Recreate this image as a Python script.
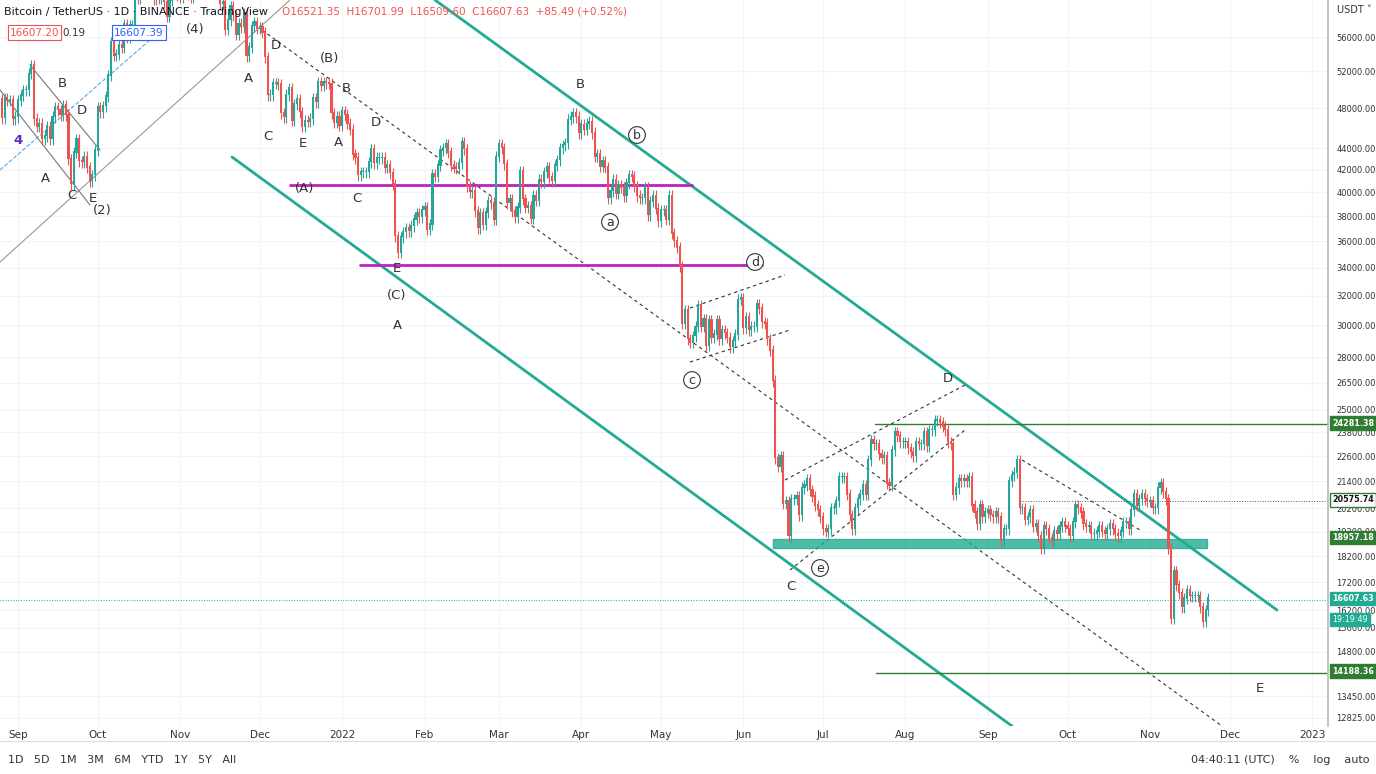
import numpy as np, pandas as pd, seaborn as sns, matplotlib
matplotlib.use("Agg")
import matplotlib.pyplot as plt

# daily closes (thousands USDT), 2021-08-25 .. 2022-11-23
closes_k = [48.9,47.0,49.0,48.8,48.8,46.9,47.1,
 48.8,49.3,49.9,49.9,51.7,52.7,46.9,46.1,46.4,44.9,45.2,46.1,44.9,47.1,48.1,47.8,47.3,48.3,47.3,43.0,40.7,43.6,44.9,42.8,42.7,43.2,42.2,41.0,41.5,43.8,
 48.1,47.6,48.2,49.2,51.5,55.3,53.8,53.9,55.0,54.7,57.5,56.0,57.4,57.4,61.7,60.9,61.5,62.0,64.3,66.0,62.2,60.7,61.4,60.9,63.1,60.4,58.5,60.6,62.3,61.9,61.3,
 61.0,63.2,62.9,61.4,61.0,61.5,63.3,67.5,66.9,64.9,64.8,64.2,64.4,65.5,63.6,60.1,60.4,56.9,58.1,59.8,58.7,56.3,57.6,57.2,58.9,53.7,54.7,57.3,57.8,57.0,
 57.2,56.5,53.6,49.4,49.4,50.6,50.6,50.5,47.5,47.1,49.4,50.1,46.7,48.4,48.9,47.6,46.1,46.7,46.6,46.9,49.0,48.6,50.8,50.4,50.8,50.7,50.6,47.5,46.5,47.1,46.2,
 47.7,47.3,46.4,45.8,43.4,43.1,41.5,41.8,41.8,41.8,42.7,43.9,42.6,43.1,43.1,43.1,42.2,42.4,41.7,40.7,36.4,35.1,36.3,36.7,37.0,36.8,37.2,37.7,38.2,37.9,38.5,
 38.7,36.9,37.3,41.6,41.4,42.4,43.8,44.0,44.4,43.6,42.4,42.2,42.1,42.6,44.6,43.9,40.5,40.0,40.1,38.4,37.0,38.2,37.3,38.3,39.2,39.1,37.7,43.2,
 44.4,44.0,42.5,39.1,39.4,38.4,37.9,38.7,41.9,39.4,38.7,38.8,37.8,39.7,39.3,41.1,40.9,41.8,42.2,41.3,41.0,42.4,42.9,44.0,44.3,44.5,46.8,47.1,47.5,47.1,45.5,
 46.3,45.8,46.4,46.6,45.5,43.2,43.4,42.3,42.8,42.2,39.5,40.1,41.1,39.9,40.6,40.4,39.7,40.8,41.5,41.4,40.5,39.7,39.5,39.5,40.4,38.1,39.2,39.7,38.6,37.6,
 38.5,38.5,37.7,39.7,36.6,36.0,35.5,34.1,30.1,31.0,29.1,28.9,29.3,29.9,31.3,29.9,30.4,28.7,30.3,29.2,29.4,30.3,29.1,29.7,29.5,29.2,28.6,29.0,29.4,31.7,31.8,
 29.8,30.5,29.7,29.9,29.9,31.4,31.1,30.2,30.1,29.1,28.4,26.6,22.5,22.1,22.6,20.4,20.5,19.0,20.6,20.6,20.7,19.9,21.1,21.2,21.5,21.0,20.7,20.3,20.1,19.8,
 19.3,19.2,19.3,20.2,20.2,20.5,21.6,21.6,21.6,20.8,19.9,19.3,20.2,20.6,20.8,21.2,20.8,22.4,23.4,23.2,23.2,22.7,22.5,22.6,21.3,21.2,22.9,23.8,23.6,23.3,23.3,
 23.3,23.0,22.8,22.6,23.3,23.2,23.2,23.8,23.1,23.9,23.9,24.4,24.4,24.3,24.1,23.9,23.3,23.2,20.8,21.1,21.5,21.4,21.5,21.4,21.6,20.3,20.0,19.5,20.3,19.8,20.0,
 20.1,19.9,19.8,20.0,19.8,18.8,19.3,19.3,21.4,21.7,21.8,22.4,20.2,20.2,19.7,19.8,20.1,19.4,19.5,19.0,18.5,19.4,19.3,18.9,18.8,19.2,19.1,19.4,19.6,19.4,
 19.3,19.0,19.6,20.3,20.2,20.0,19.5,19.4,19.4,19.1,19.1,19.2,19.4,19.2,19.1,19.3,19.5,19.3,19.1,19.0,19.2,19.6,19.6,19.3,20.1,20.8,20.3,20.6,20.8,20.6,20.5,
 20.5,20.2,20.2,21.1,21.3,20.9,20.6,18.5,15.9,17.6,17.1,16.8,16.3,16.6,16.9,16.7,16.7,16.7,16.7,16.3,15.8,16.2,16.6]
start_day = -7  # days relative to 2021-09-01
month_labels = ["Sep","Oct","Nov","Dec","2022","Feb","Mar","Apr","May","Jun","Jul","Aug","Sep","Oct","Nov","Dec","2023"]
month_days = [0,30,61,91,122,153,181,212,242,273,303,334,365,395,426,456,487]
price_ticks = [56000,52000,48000,44000,42000,40000,38000,36000,34000,32000,30000,28000,26500,25000,23800,22600,21400,20200,19200,18200,17200,16200,15600,14800,13450,12825]
levels = [24281.38,20575.74,18957.18,16607.63,14188.36]

UP, DN, TEAL = "#26a69a", "#ef5350", "#22ab94"
sns.set_theme(style="white")
plt.rcParams['font.family'] = ['DejaVu Sans']
fig = plt.figure(figsize=(13.76,7.74), dpi=100)
ax = fig.add_axes([0, 48/774, 1328/1376, 1-48/774])
ax.set_yscale("log")
X0, X1 = -18/2.657, (1328-18)/2.657
Y1 = 56000*np.exp(37/462)
ax.set_ylim(12825*np.exp(-(726-718)/462), Y1)
ax.set_xlim(X0, X1)

def P(x, y):  # pixel -> data (annotations)
    return (x-18)/2.657, 56000*np.exp((37-y)/462)

c = np.array(closes_k)*1000
o = np.r_[c[0], c[:-1]]
days = np.arange(len(c)) + start_day
hi = np.maximum(o,c)*1.012; lo = np.minimum(o,c)*0.988
col = np.where(c>=o, UP, DN)

for v in price_ticks: ax.axhline(v, color="#f0f3fa", lw=0.8, zorder=0)
for d in month_days: ax.axvline(d, color="#f0f3fa", lw=0.8, zorder=0)

ax.vlines(days, lo, hi, colors=col, lw=0.8, zorder=3)
ax.bar(days, np.abs(c-o)+c*0.003, bottom=np.minimum(o,c), width=0.8, color=col, zorder=4, linewidth=0)

def seg(p1, p2, **kw):
    a, b = P(*p1), P(*p2); ax.plot([a[0],b[0]],[a[1],b[1]], **kw)
seg((435,0),(1277,610), color=TEAL, lw=2)
seg((232,157),(1012,726), color=TEAL, lw=2)
seg((262,30),(1222,726), color="#333", lw=0.8, ls=(0,(3,3)))
seg((290,185),(692,185), color="#c020c0", lw=2)
seg((360,265),(762,265), color="#c020c0", lw=2)
seg((875,424),(1376,424), color="#2e7d32", lw=1)
seg((876,673),(1376,673), color="#2e7d32", lw=1)
seg((1020,501),(1376,501), color="#555", lw=0.7, ls=":")
seg((0,600),(1376,600), color=TEAL, lw=0.7, ls=":")
seg((0,262),(290,0), color="#999", lw=0.8)
seg((0,170),(150,40), color="#5aa9e6", lw=0.8, ls="--")
seg((30,65),(100,150), color="#777", lw=0.8)
seg((90,205),(0,90), color="#777", lw=0.8)
seg((785,480),(965,385), color="#333", lw=0.8, ls=(0,(3,3)))
seg((790,570),(965,430), color="#333", lw=0.8, ls=(0,(3,3)))
seg((690,308),(785,275), color="#333", lw=0.8, ls=(0,(3,3)))
seg((690,362),(790,330), color="#333", lw=0.8, ls=(0,(3,3)))
seg((1022,460),(1140,530), color="#333", lw=0.8, ls=(0,(3,3)))
a, b = P(773,548), P(1207,539)
ax.fill_between([a[0],b[0]], a[1], b[1], color=TEAL, alpha=0.8, zorder=2)

labels = [(305,188,"(A)"),(330,58,"(B)"),(397,295,"(C)"),(397,325,"A"),(397,268,"E"),(276,45,"D"),(248,78,"A"),(268,136,"C"),
          (303,143,"E"),(346,88,"B"),(338,142,"A"),(376,122,"D"),(357,198,"C"),(580,84,"B"),(791,586,"C"),(948,378,"D"),
          (1260,688,"E"),(45,178,"A"),(62,83,"B"),(82,110,"D"),(72,195,"C"),(93,198,"E"),(102,210,"(2)"),(195,29,"(4)")]
for x,y,t in labels:
    ax.text(*P(x,y), t, ha="center", va="center", fontsize=9.5, color="#333")
ax.text(*P(18,140), "4", ha="center", va="center", fontsize=9.5, color="#5b2fc7", weight="bold")
for x,y,t in [(637,135,"b"),(610,222,"a"),(755,262,"d"),(692,380,"c"),(820,568,"e")]:
    ax.text(*P(x,y), t, ha="center", va="center", fontsize=9, color="#333",
            bbox=dict(boxstyle="circle,pad=0.15", fc="white", ec="#333", lw=0.8))

ax.yaxis.tick_right()
ax.set_yticks(price_ticks); ax.set_yticklabels([f"{v:.2f}" for v in price_ticks], fontsize=6, color="#333")
ax.yaxis.set_minor_locator(matplotlib.ticker.NullLocator())
ax.set_xticks(month_days); ax.set_xticklabels(month_labels, fontsize=7.5, color="#333")
ax.tick_params(axis="y", length=0, pad=6)
ax.tick_params(axis="x", length=0, pad=3)
for s in ax.spines.values(): s.set_visible(False)
ax.spines["right"].set_visible(True); ax.spines["right"].set_color("#bbb")

for v, fc in zip(levels, ["#2e7d32", "#ffffff", "#2e7d32", TEAL, "#2e7d32"]):
    ax.text(1.003, v, f"{v:.2f}", transform=ax.get_yaxis_transform(), va="center", ha="left", fontsize=5.8,
            color="white" if fc!="#ffffff" else "#111", weight="bold", zorder=10,
            bbox=dict(boxstyle="square,pad=0.3", fc=fc, ec="#2e7d32" if fc=="#ffffff" else fc))
ax.text(1.003, 16607.63*0.965, "19:19:49", transform=ax.get_yaxis_transform(), va="top", ha="left", fontsize=5.8,
        color="white", zorder=10, bbox=dict(boxstyle="square,pad=0.3", fc=TEAL, ec=TEAL))

fig.text(0.003, 0.985, "Bitcoin / TetherUS · 1D · BINANCE · TradingView", fontsize=8, color="#131722", va="center")
fig.text(0.205, 0.985, "O16521.35  H16701.99  L16509.60  C16607.63  +85.49 (+0.52%)", fontsize=7.5, color=DN, va="center")
fig.text(0.007, 0.958, "16607.20", fontsize=7.5, color=DN, va="center", bbox=dict(fc="white", ec=DN, lw=0.8, pad=1.5))
fig.text(0.045, 0.958, "0.19", fontsize=7.5, color="#333", va="center")
fig.text(0.083, 0.958, "16607.39", fontsize=7.5, color="#2962ff", va="center", bbox=dict(fc="white", ec="#2962ff", lw=0.8, pad=1.5))
fig.text(0.972, 0.987, "USDT ˅", fontsize=7, color="#333", va="center")
fig.text(0.006, 0.018, "1D   5D   1M   3M   6M   YTD   1Y   5Y   All", fontsize=8, color="#333", va="center")
fig.text(0.995, 0.018, "04:40:11 (UTC)    %    log    auto", fontsize=8, color="#333", va="center", ha="right")
fig.add_artist(plt.Line2D([0,1],[0.043,0.043], color="#ddd", lw=0.8))
fig.savefig("out.png", dpi=100)
